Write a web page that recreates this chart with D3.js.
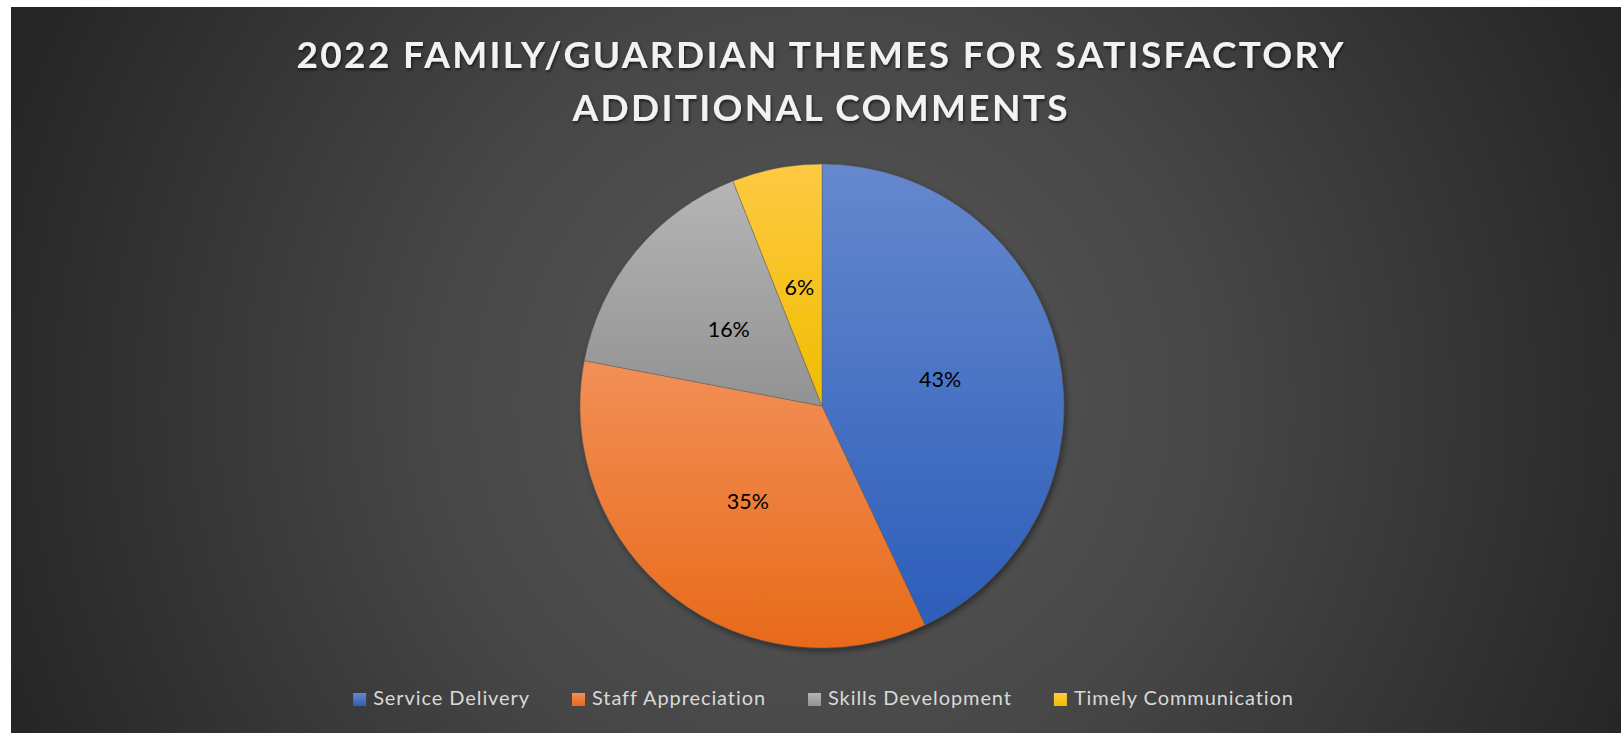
<!DOCTYPE html>
<html>
<head>
<meta charset="utf-8">
<script src="https://cdn.jsdelivr.net/npm/d3@7"></script>
<style>
  html, body { margin: 0; padding: 0; background: #ffffff; }
  svg { display: block; }
</style>
</head>
<body>
<svg id="chart" width="1621" height="733"></svg>
<script>
// Theme categories and their share of comments (percent)
const categories = ["Service Delivery", "Staff Appreciation", "Skills Development", "Timely Communication"];
const shares = [43, 35, 16, 6];
const titleLines = ["2022 FAMILY/GUARDIAN THEMES FOR SATISFACTORY", "ADDITIONAL COMMENTS"];

// Slice fills: each slice shades from a lighter top to a deeper bottom
const topColors = ["#6688cd", "#f28f57", "#b5b5b5", "#ffc942"];
const bottomColors = ["#2c5eba", "#e86a19", "#929292", "#efbd00"];

const W = 1621, H = 733;
const frame = { x: 11, y: 7, w: W - 11, h: H - 7 };
const cx = 822, cy = 406, radius = 242;

const svg = d3.select("#chart");
const defs = svg.append("defs");

// Background: soft radial glow on a charcoal panel
const bg = defs.append("radialGradient")
  .attr("id", "bgGlow")
  .attr("gradientUnits", "userSpaceOnUse")
  .attr("cx", cx).attr("cy", 400).attr("r", 860);
bg.append("stop").attr("offset", 0).attr("stop-color", "#585858");
bg.append("stop").attr("offset", 0.45).attr("stop-color", "#474747");
bg.append("stop").attr("offset", 1).attr("stop-color", "#262626");

svg.append("rect")
  .attr("x", frame.x).attr("y", frame.y)
  .attr("width", frame.w).attr("height", frame.h)
  .attr("fill", "url(#bgGlow)");

// Per-slice vertical gradients
categories.forEach((c, i) => {
  const g = defs.append("linearGradient")
    .attr("id", "slice" + i)
    .attr("x1", 0).attr("y1", 0).attr("x2", 0).attr("y2", 1);
  g.append("stop").attr("offset", 0).attr("stop-color", topColors[i]);
  g.append("stop").attr("offset", 1).attr("stop-color", bottomColors[i]);
});

// Shadows for the pie and title
const pieShadow = defs.append("filter").attr("id", "pieShadow")
  .attr("x", "-10%").attr("y", "-10%").attr("width", "120%").attr("height", "120%");
pieShadow.append("feDropShadow")
  .attr("dx", 2).attr("dy", 3).attr("stdDeviation", 3)
  .attr("flood-color", "#000").attr("flood-opacity", 0.45);

const titleShadow = defs.append("filter").attr("id", "titleShadow")
  .attr("x", "-5%").attr("y", "-30%").attr("width", "110%").attr("height", "160%");
titleShadow.append("feDropShadow")
  .attr("dx", 1).attr("dy", 2).attr("stdDeviation", 1.4)
  .attr("flood-color", "#000").attr("flood-opacity", 0.6);

// Title
const titleG = svg.append("g").attr("filter", "url(#titleShadow)");
const titleBaselines = [68, 121];
const titleWidths = [1047, 495];
titleLines.forEach((t, i) => {
  titleG.append("text")
    .attr("x", 820).attr("y", titleBaselines[i])
    .attr("text-anchor", "middle")
    .attr("font-family", "Lato, 'Open Sans', sans-serif")
    .attr("font-weight", 700)
    .attr("font-size", 37)
    .attr("fill", "#f2f2f2")
    .attr("textLength", titleWidths[i])
    .attr("lengthAdjust", "spacing")
    .text(t);
});

// Pie
const pie = d3.pie().sort(null).value(d => d.value).startAngle(0).endAngle(2 * Math.PI);
const data = categories.map((c, i) => ({ name: c, value: shares[i], index: i }));
const arcs = pie(data);

const arc = d3.arc().innerRadius(0).outerRadius(radius);
const labelArc = d3.arc().innerRadius(radius * 0.5).outerRadius(radius * 0.5);

const pieG = svg.append("g").attr("transform", `translate(${cx},${cy})`);
pieG.append("g").attr("filter", "url(#pieShadow)")
  .selectAll("path")
  .data(arcs)
  .join("path")
  .attr("d", arc)
  .attr("fill", d => `url(#slice${d.data.index})`)
  .attr("stroke", "rgba(90,90,90,0.55)")
  .attr("stroke-width", 0.75);

pieG.selectAll("text.value")
  .data(arcs)
  .join("text")
  .attr("class", "value")
  .attr("transform", d => `translate(${labelArc.centroid(d)})`)
  .attr("text-anchor", "middle")
  .attr("dy", "0.36em")
  .attr("font-family", "Lato, 'Open Sans', sans-serif")
  .attr("font-size", 21.5)
  .attr("fill", "#000000")
  .text(d => d.data.value + "%");

// Legend, laid out in one centered row
const legendG = svg.append("g");
const legendBaseline = 705;
const sw = 13, swGap = 7, itemGap = 42;
const items = legendG.selectAll("g")
  .data(data)
  .join("g");
items.append("rect")
  .attr("width", sw).attr("height", sw)
  .attr("y", legendBaseline - 12)
  .attr("fill", d => `url(#slice${d.index})`);
items.append("text")
  .attr("x", sw + swGap)
  .attr("y", legendBaseline)
  .attr("font-family", "Lato, 'Open Sans', sans-serif")
  .attr("font-size", 20)
  .attr("letter-spacing", 0.92)
  .attr("fill", "#d9d9d9")
  .text(d => d.name);

let widths = [];
items.each(function () {
  const tw = d3.select(this).select("text").node().getComputedTextLength();
  widths.push(sw + swGap + tw);
});
const total = d3.sum(widths) + itemGap * (widths.length - 1);
let xPos = 823.5 - total / 2;
items.each(function (d, i) {
  d3.select(this).attr("transform", `translate(${xPos},0)`);
  xPos += widths[i] + itemGap;
});
</script>
</body>
</html>
